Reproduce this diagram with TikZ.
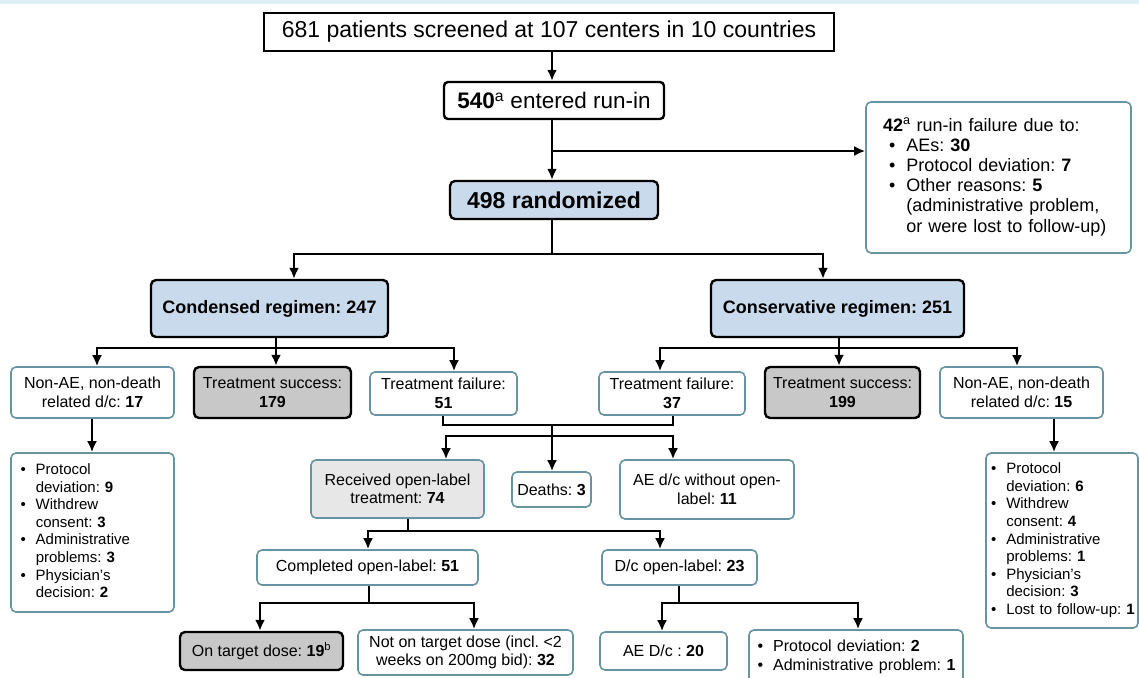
\documentclass[tikz,border=0pt]{standalone}
\usepackage{fontspec}
\setmainfont{Liberation Sans}
\usetikzlibrary{arrows.meta}
\definecolor{boxblue}{RGB}{200,218,236}
\definecolor{boxgray}{RGB}{200,200,200}
\definecolor{recvgray}{RGB}{231,231,231}
\definecolor{tealline}{RGB}{104,148,162}
\definecolor{topband}{RGB}{221,238,245}
\frenchspacing

\tikzset{
	blackbox/.style={draw=black,line width=2.4pt,rounded corners=5pt,align=center,inner sep=0pt},
	tealbox/.style={draw=tealline,line width=1.6pt,fill=white,rounded corners=5pt,align=center,inner sep=0pt,font=\fontsize{16}{18.5}\selectfont},
	listbox/.style={tealbox,align=left,font=\fontsize{15}{17.6}\selectfont},
	ln/.style={line width=2.6pt},
	arr/.style={ln,-{Latex[length=11pt,width=10pt]}}
}

\begin{document}
\begin{tikzpicture}[x=1pt,y=-1pt]
	\useasboundingbox (0,0) rectangle (1139,677);
	\fill[white] (0,0) rectangle (1139,677);
	\fill[topband] (0,0) rectangle (1139,4);

	\node[blackbox,rounded corners=0pt,fill=white,minimum width=570pt,minimum height=38pt,font=\fontsize{23}{27}\selectfont] (screen) at (549,32) {681 patients screened at 107 centers in 10 countries};
	\node[blackbox,rounded corners=4pt,fill=white,minimum width=220pt,minimum height=37pt,font=\fontsize{22.5}{26}\selectfont] (runin) at (554,100.5) {\textbf{540}\textsuperscript{a} entered run-in};
	\node[blackbox,fill=boxblue,minimum width=208pt,minimum height=38pt,font=\bfseries\fontsize{23}{27}\selectfont] (rand) at (554,200) {498 randomized};
	\node[listbox,font=\fontsize{18}{20.2}\selectfont,text width=231pt,inner xsep=17pt,minimum width=265pt,minimum height=151pt] (fail42) at (998.5,177.5) {\begin{tabular}{@{}l@{}l@{\hspace{11pt}}l@{}}
		\multicolumn{3}{@{}l@{}}{\textbf{42}\textsuperscript{a} run-in failure due to:}\\
		\hspace*{6pt} & \textbullet & AEs: \textbf{30}\\
		& \textbullet & Protocol deviation: \textbf{7}\\
		& \textbullet & Other reasons: \textbf{5}\\
		& & (administrative problem,\\
		& & or were lost to follow-up)
	\end{tabular}};

	\node[blackbox,fill=boxblue,minimum width=237pt,minimum height=57pt,font=\bfseries\fontsize{18}{21}\selectfont] (cond) at (269.5,308.5) {Condensed regimen: 247};
	\node[blackbox,fill=boxblue,minimum width=253pt,minimum height=57pt,font=\bfseries\fontsize{18}{21}\selectfont] (cons) at (837.5,308.5) {Conservative regimen: 251};

	\node[tealbox,minimum width=163pt,minimum height=51pt] (nae17) at (92.5,392.5) {Non-AE, non-death\\related d/c: \textbf{17}};
	\node[blackbox,fill=boxgray,minimum width=157pt,minimum height=51pt,font=\fontsize{16}{18.5}\selectfont] (ts179) at (272.5,392.5) {Treatment success:\\\textbf{179}};
	\node[tealbox,minimum width=147pt,minimum height=43pt] (tf51) at (443.5,393.5) {Treatment failure:\\\textbf{51}};
	\node[tealbox,minimum width=146pt,minimum height=43pt] (tf37) at (672,393.5) {Treatment failure:\\\textbf{37}};
	\node[blackbox,fill=boxgray,minimum width=155pt,minimum height=51pt,font=\fontsize{16}{18.5}\selectfont] (ts199) at (842.5,392.5) {Treatment success:\\\textbf{199}};
	\node[tealbox,minimum width=163pt,minimum height=51pt] (nae15) at (1021.5,392.5) {Non-AE, non-death\\related d/c: \textbf{15}};

	\node[listbox,text width=144pt,inner xsep=9.5pt,minimum width=163pt,minimum height=159pt] (list17) at (92.5,532.5) {\begin{tabular}{@{}l@{\hspace{10pt}}l@{}}
		\textbullet & Protocol\\ & deviation: \textbf{9}\\
		\textbullet & Withdrew\\ & consent: \textbf{3}\\
		\textbullet & Administrative\\ & problems: \textbf{3}\\
		\textbullet & Physician's\\ & decision: \textbf{2}
	\end{tabular}};
	\node[tealbox,fill=recvgray,minimum width=173pt,minimum height=58pt] (recv) at (397.5,489) {Received open-label\\treatment: \textbf{74}};
	\node[tealbox,minimum width=79pt,minimum height=35pt] (deaths) at (551.5,489.5) {Deaths: \textbf{3}};
	\node[tealbox,minimum width=174pt,minimum height=59pt] (aedc) at (707,489.5) {AE d/c without open-\\label: \textbf{11}};
	\node[listbox,text width=142pt,inner xsep=5pt,minimum width=152pt,minimum height=175pt] (list15) at (1062,540.5) {\begin{tabular}{@{}l@{\hspace{10pt}}l@{}}
		\textbullet & Protocol\\ & deviation: \textbf{6}\\
		\textbullet & Withdrew\\ & consent: \textbf{4}\\
		\textbullet & Administrative\\ & problems: \textbf{1}\\
		\textbullet & Physician's\\ & decision: \textbf{3}\\
		\textbullet & Lost to follow-up: \textbf{1}
	\end{tabular}};

	\node[tealbox,minimum width=221pt,minimum height=35pt] (compl) at (367.5,567.5) {Completed open-label: \textbf{51}};
	\node[tealbox,minimum width=155pt,minimum height=35pt] (dcol) at (679.5,567.5) {D/c open-label: \textbf{23}};

	\node[blackbox,fill=boxgray,minimum width=163pt,minimum height=38pt,font=\fontsize{16}{18.5}\selectfont] (ontgt) at (261.5,651) {On target dose: \textbf{19}\textsuperscript{b}};
	\node[tealbox,minimum width=215pt,minimum height=45pt] (notgt) at (465.5,652.5) {Not on target dose (incl. <2\\weeks on 200mg bid): \textbf{32}};
	\node[tealbox,minimum width=127pt,minimum height=38pt] (aedc20) at (663.5,651) {AE D/c : \textbf{20}};
	\node[listbox,font=\fontsize{16}{19}\selectfont,text width=197pt,inner xsep=8.5pt,minimum width=214pt,minimum height=54pt] (list2) at (856,657) {\begin{tabular}{@{}l@{\hspace{10pt}}l@{}}
		\textbullet & Protocol deviation: \textbf{2}\\
		\textbullet & Administrative problem: \textbf{1}
	\end{tabular}};

	\coordinate (s0) at (552,151);
	\draw[arr] (screen.south -| s0) -- (runin.north -| s0);
	\draw[ln] (runin.south -| s0) -- (s0);
	\draw[arr] (s0) -- (rand.north -| s0);
	\draw[arr] (s0) -- (fail42.west |- s0);

	\coordinate (r0) at (552,254);
	\coordinate (rl) at (294,254);
	\coordinate (rr) at (823,254);
	\draw[ln] (rand.south -| r0) -- (r0);
	\draw[arr] (r0) -| (cond.north -| rl);
	\draw[arr] (r0) -| (cons.north -| rr);

	\coordinate (c0) at (276,348);
	\coordinate (cl) at (97,348);
	\coordinate (cr) at (454,348);
	\draw[ln] (cond.south -| c0) -- (c0);
	\draw[arr] (c0) -| (nae17.north -| cl);
	\draw[arr] (c0) -- (ts179.north -| c0);
	\draw[arr] (c0) -| (tf51.north -| cr);

	\coordinate (k0) at (839,348);
	\coordinate (kl) at (660,348);
	\coordinate (kr) at (1017,348);
	\draw[ln] (cons.south -| k0) -- (k0);
	\draw[arr] (k0) -| (tf37.north -| kl);
	\draw[arr] (k0) -- (ts199.north -| k0);
	\draw[arr] (k0) -| (nae15.north -| kr);

	\coordinate (n17) at (92,430);
	\coordinate (n15) at (1054,430);
	\draw[arr] (nae17.south -| n17) -- (list17.north -| n17);
	\draw[arr] (nae15.south -| n15) -- (list15.north -| n15);

	\coordinate (m0) at (552,425);
	\coordinate (ml) at (443,425);
	\coordinate (mr) at (673,425);
	\coordinate (m1) at (552,436);
	\coordinate (al) at (446,436);
	\draw[ln] (tf51.south -| ml) |- (mr) -- (tf37.south -| mr);
	\draw[arr] (m0) -- (deaths.north -| m0);
	\draw[arr] (m1) -| (recv.north -| al);
	\draw[arr] (m1) -| (aedc.north -| mr);

	\coordinate (o0) at (408,531);
	\coordinate (o1) at (368,531);
	\coordinate (o2) at (660,531);
	\draw[ln] (recv.south -| o0) -- (o0);
	\draw[arr] (o0) -| (compl.north -| o1);
	\draw[arr] (o0) -| (dcol.north -| o2);

	\coordinate (p0) at (369,603);
	\coordinate (p1) at (260,603);
	\coordinate (p2) at (474,603);
	\draw[ln] (compl.south -| p0) -- (p0);
	\draw[arr] (p0) -| (ontgt.north -| p1);
	\draw[arr] (p0) -| (notgt.north -| p2);

	\coordinate (q0) at (679,603);
	\coordinate (q1) at (662,603);
	\coordinate (q2) at (858,603);
	\draw[ln] (dcol.south -| q0) -- (q0);
	\draw[arr] (q0) -| (aedc20.north -| q1);
	\draw[arr] (q0) -| (list2.north -| q2);
\end{tikzpicture}
\end{document}
